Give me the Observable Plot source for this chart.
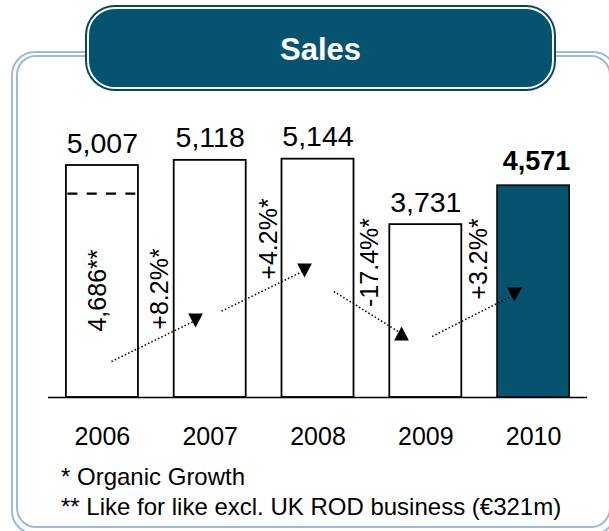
<!DOCTYPE html>
<html>
<head>
<meta charset="utf-8">
<script src="https://cdn.jsdelivr.net/npm/d3@7"></script>
<script src="https://cdn.jsdelivr.net/npm/@observablehq/plot@0.6"></script>
<style>
html, body { margin: 0; padding: 0; background: #fff; }
#page { position: relative; width: 609px; height: 531px; overflow: hidden; font-family: "Liberation Sans", Arial, sans-serif; }
.frame { position: absolute; border: 2px solid #a0b9d8; box-sizing: border-box; }
#f1 { left: 11px; top: 51px; width: 606px; height: 484px; border-radius: 24px; }
#f2 { left: 16px; top: 55px; width: 595px; height: 473px; border-radius: 20px; }
#chart { position: absolute; left: 0; top: 0; }
#tabOuter { position: absolute; left: 85px; top: 5px; width: 471px; height: 86px; background: #04475e; border-radius: 30px; }
#tabInner { position: absolute; left: 87px; top: 7px; width: 467px; height: 82px; box-sizing: border-box; border: 2px solid #fff; background: #05536e; border-radius: 28px; }
#title { position: absolute; left: 85px; width: 471px; top: 33.7px; text-align: center; color: #fff; font-weight: bold; font-size: 31px; line-height: 31px; }
.note { position: absolute; left: 61px; font-size: 24px; line-height: 24px; color: #000; white-space: nowrap; }
</style>
</head>
<body>
<div id="page">
  <div class="frame" id="f1"></div>
  <div class="frame" id="f2"></div>
  <div id="chart"></div>
  <div id="tabOuter"></div>
  <div id="tabInner"></div>
  <div id="title"></div>
  <div class="note" id="n1" style="top:464.7px"></div>
  <div class="note" id="n2" style="top:494.7px"></div>
</div>
<script>
// ---- data ----
const titleText = "Sales";
const years = [2006, 2007, 2008, 2009, 2010];
const sales = [5007, 5118, 5144, 3731, 4571];
const highlightYear = 2010;

const likeForLikeLabel = "4,686**";
const likeForLikeLevel = 4400;      // drawn level of dashed line (as in picture)
const likeForLikeLabelX = 2005.955;
const likeForLikeLabelY = 2309;

const growthLabels = ["+8.2%*", "+4.2%*", "-17.4%*", "+3.2%*"];
const growthLabelX = [2006.53, 2007.55, 2008.487, 2009.498];
const growthLabelY = [2342, 3421, 2914, 2989];

const arrowX1 = [2006.084, 2007.105, 2008.147, 2009.059];
const arrowY1 = [777, 1863, 2288, 1317];
const arrowX2 = [2006.864, 2007.875, 2008.775, 2009.823];
const arrowY2 = [1662, 2741, 1381, 2223];
const arrowHead = ["down", "down", "up", "down"];

const footnotes = ["* Organic Growth", "** Like for like excl. UK ROD business (€321m)"];

// ---- build tables ----
const bars = years.map((year, i) => ({year, value: sales[i]}));
const growth = growthLabels.map((label, i) => ({label, x: growthLabelX[i], y: growthLabelY[i]}));
const arrows = arrowX1.map((x1, i) => ({x1, y1: arrowY1[i], x2: arrowX2[i], y2: arrowY2[i], dir: arrowHead[i]}));

const teal = "#05536e";
const fmt = d3.format(",");
const half = 0.334;

function tri(dir) {
  return {
    draw(ctx, size) {
      const r = Math.sqrt(size / Math.PI);
      const w = r * 1.27, h = r * 1.2;
      if (dir === "down") {
        ctx.moveTo(-w, -h); ctx.lineTo(w, -h); ctx.lineTo(0, h); ctx.closePath();
      } else {
        ctx.moveTo(-w, h); ctx.lineTo(w, h); ctx.lineTo(0, -h); ctx.closePath();
      }
    }
  };
}

const chart = Plot.plot({
  width: 609,
  height: 460,
  marginLeft: 48,
  marginRight: 22,
  marginTop: 119,
  marginBottom: 63,
  style: {fontFamily: "'Liberation Sans', Arial, sans-serif", background: "transparent", overflow: "visible", color: "#000"},
  x: {domain: [2005.5, 2010.5], axis: null},
  y: {domain: [0, 6000], axis: null},
  marks: [
    Plot.rectY(bars.filter(d => d.year !== highlightYear), {x1: d => d.year - half, x2: d => d.year + half, y: "value", fill: "white", stroke: "#000", strokeWidth: 1.8}),
    Plot.rectY(bars.filter(d => d.year === highlightYear), {x1: d => d.year - half, x2: d => d.year + half, y: "value", fill: teal, stroke: "#111", strokeWidth: 1.8}),
    Plot.ruleY([0], {stroke: "#000", strokeWidth: 1.6}),
    Plot.ruleY([{year: years[0], level: likeForLikeLevel}], {y: "level", x1: d => d.year - 0.32, x2: d => d.year + 0.32, stroke: "#000", strokeWidth: 2.2, strokeDasharray: "10,9.3"}),
    Plot.text(bars.filter(d => d.year !== highlightYear), {x: "year", y: "value", text: d => fmt(d.value), lineAnchor: "bottom", dy: -13, fontSize: 28.5, fill: "#000"}),
    Plot.text(bars.filter(d => d.year === highlightYear), {x: "year", y: "value", text: d => fmt(d.value), lineAnchor: "bottom", dy: -16, dx: 3, fontSize: 27, fontWeight: "bold", fill: "#000"}),
    Plot.text(years, {x: d => d, y: () => 0, text: d => String(d), lineAnchor: "bottom", dy: 47, fontSize: 25, fill: "#000"}),
    Plot.text([{label: likeForLikeLabel, x: likeForLikeLabelX, y: likeForLikeLabelY}], {x: "x", y: "y", text: "label", rotate: -90, fontSize: 25, fill: "#000"}),
    Plot.text(growth, {x: "x", y: "y", text: "label", rotate: -90, fontSize: 25, fill: "#000"}),
    Plot.link(arrows, {x1: "x1", y1: "y1", x2: "x2", y2: "y2", stroke: "#000", strokeWidth: 1.5, strokeDasharray: "1.5,2.2"}),
    Plot.dot(arrows.filter(d => d.dir === "down"), {x: "x2", y: "y2", r: 5.8, symbol: tri("down"), fill: "#000", stroke: "none"}),
    Plot.dot(arrows.filter(d => d.dir === "up"), {x: "x2", y: "y2", r: 5.8, symbol: tri("up"), fill: "#000", stroke: "none"})
  ]
});
document.getElementById("chart").appendChild(chart);
document.getElementById("title").textContent = titleText;
document.getElementById("n1").textContent = footnotes[0];
document.getElementById("n2").textContent = footnotes[1];
</script>
</body>
</html>
